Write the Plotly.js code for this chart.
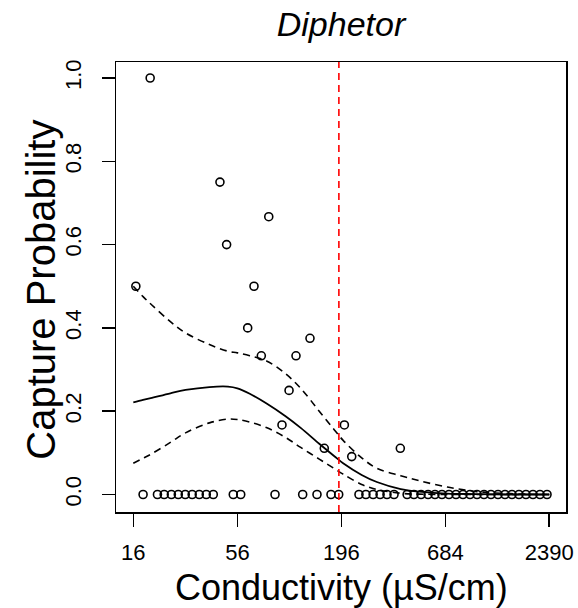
<!DOCTYPE html>
<html><head><meta charset="utf-8">
<script src="https://cdn.plot.ly/plotly-3.0.1.min.js"></script>
<style>html,body{margin:0;padding:0;background:#fff}#chart{width:578px;height:608px}</style>
</head><body><div id="chart"></div>
<script>
const chartTitle = "Diphetor";
const xLabel = "Conductivity (µS/cm)";
const yLabel = "Capture Probability";
const xTickVals = [16, 56, 196, 684, 2390];
const xTickText = ["16", "56", "196", "684", "2390"];
const yTickVals = [0, 0.2, 0.4, 0.6, 0.8, 1.0];
const yTickText = ["0.0", "0.2", "0.4", "0.6", "0.8", "1.0"];

// observed capture proportions per site
const obsX = [16.5, 19.6, 45.4, 49.2, 63.4, 68.4, 74.7, 81.7, 95.8, 104.3, 113.4, 134.2, 159.4, 203, 221.8, 398,
  18.0, 21.4, 23.2, 25.3, 27.5, 29.9, 32.5, 35.4, 38.5, 41.9, 53.3, 58.3, 88.1, 122.9, 146, 172.8, 189.6,
  242, 263, 287, 312, 339, 369, 432, 469, 511, 556, 604, 657, 715, 778, 846, 921, 1002, 1090, 1185, 1290,
  1403, 1526, 1660, 1806, 1965, 2138, 2327];
const obsY = [0.5, 1.0, 0.75, 0.6, 0.4, 0.5, 0.333, 0.667, 0.167, 0.25, 0.333, 0.375, 0.111, 0.167, 0.091, 0.111,
  0, 0, 0, 0, 0, 0, 0, 0, 0, 0, 0, 0, 0, 0, 0, 0, 0,
  0, 0, 0, 0, 0, 0, 0, 0, 0, 0, 0, 0, 0, 0, 0, 0, 0, 0, 0, 0,
  0, 0, 0, 0, 0, 0, 0];

// fitted curve and confidence band
const curveX = [16, 18, 20, 25, 30, 40, 50, 56, 65, 80, 100, 120, 150, 180, 200, 250, 300, 400, 500, 700, 1000, 1500, 2390];
const fitY   = [0.221, 0.227, 0.232, 0.243, 0.251, 0.258, 0.259, 0.255, 0.242, 0.218, 0.188, 0.160, 0.122, 0.092, 0.075, 0.047, 0.030, 0.013, 0.007, 0.002, 0.001, 0.0, 0.0];
const upperY = [0.500, 0.475, 0.455, 0.415, 0.388, 0.360, 0.344, 0.340, 0.333, 0.320, 0.290, 0.255, 0.200, 0.155, 0.130, 0.088, 0.063, 0.045, 0.033, 0.018, 0.007, 0.002, 0.0];
const lowerY = [0.075, 0.087, 0.098, 0.125, 0.148, 0.172, 0.181, 0.180, 0.174, 0.160, 0.137, 0.113, 0.085, 0.062, 0.049, 0.024, 0.012, 0.003, 0.001, 0.0, 0.0, 0.0, 0.0];

const threshold = 190;

const font = "Liberation Sans, Arial, Helvetica, sans-serif";

const traces = [
  {x: obsX, y: obsY, type: "scatter", mode: "markers",
   marker: {symbol: "circle-open", size: 8, color: "#000", line: {width: 1.6, color: "#000"}},
   hoverinfo: "skip"},
  {x: curveX, y: fitY, type: "scatter", mode: "lines", line: {color: "#000", width: 1.8, shape: "spline"}},
  {x: curveX, y: upperY, type: "scatter", mode: "lines", line: {color: "#000", width: 1.6, dash: "7px,5px", shape: "spline"}},
  {x: curveX, y: lowerY, type: "scatter", mode: "lines", line: {color: "#000", width: 1.6, dash: "7px,5px", shape: "spline"}}
];

const axisCommon = {
  showgrid: false, zeroline: false, showline: true, linecolor: "#000", linewidth: 1.5, mirror: true,
  ticks: "outside", ticklen: 13, tickwidth: 1.5, tickcolor: "#000",
  tickfont: {family: font, size: 22, color: "#000"}
};

const layout = {
  width: 578, height: 608,
  margin: {l: 116, r: 12, t: 62, b: 96},
  paper_bgcolor: "#fff", plot_bgcolor: "#fff",
  showlegend: false,
  font: {family: font, color: "#000"},
  title: {text: "<i>" + chartTitle + "</i>", font: {family: font, size: 34, color: "#000"},
          x: 0.59, xanchor: "center", y: 0.980, yanchor: "top"},
  xaxis: Object.assign({}, axisCommon, {
    type: "log", range: [1.1137, 3.466],
    tickmode: "array", tickvals: xTickVals, ticktext: xTickText,
    ticklabelstandoff: 7
  }),
  yaxis: Object.assign({}, axisCommon, {
    range: [-0.042, 1.0384],
    tickmode: "array", tickvals: yTickVals, ticktext: yTickText, tickangle: -90,
    ticklabelstandoff: 12
  }),
  annotations: [
    {text: xLabel, xref: "paper", yref: "paper", x: 0.5, y: -0.1667, xanchor: "center", yanchor: "middle",
     showarrow: false, font: {family: font, size: 36, color: "#000"}},
    {text: yLabel, xref: "paper", yref: "paper", x: -0.1656, y: 0.495, xanchor: "center", yanchor: "middle",
     textangle: -90, showarrow: false, font: {family: font, size: 40, color: "#000"}}
  ],
  shapes: [
    {type: "line", xref: "x", yref: "paper", x0: threshold, x1: threshold, y0: 0, y1: 1,
     line: {color: "#ff0000", width: 1.6, dash: "7px,5px"}}
  ]
};

Plotly.newPlot("chart", traces, layout, {displayModeBar: false, staticPlot: true});
</script>
</body></html>
